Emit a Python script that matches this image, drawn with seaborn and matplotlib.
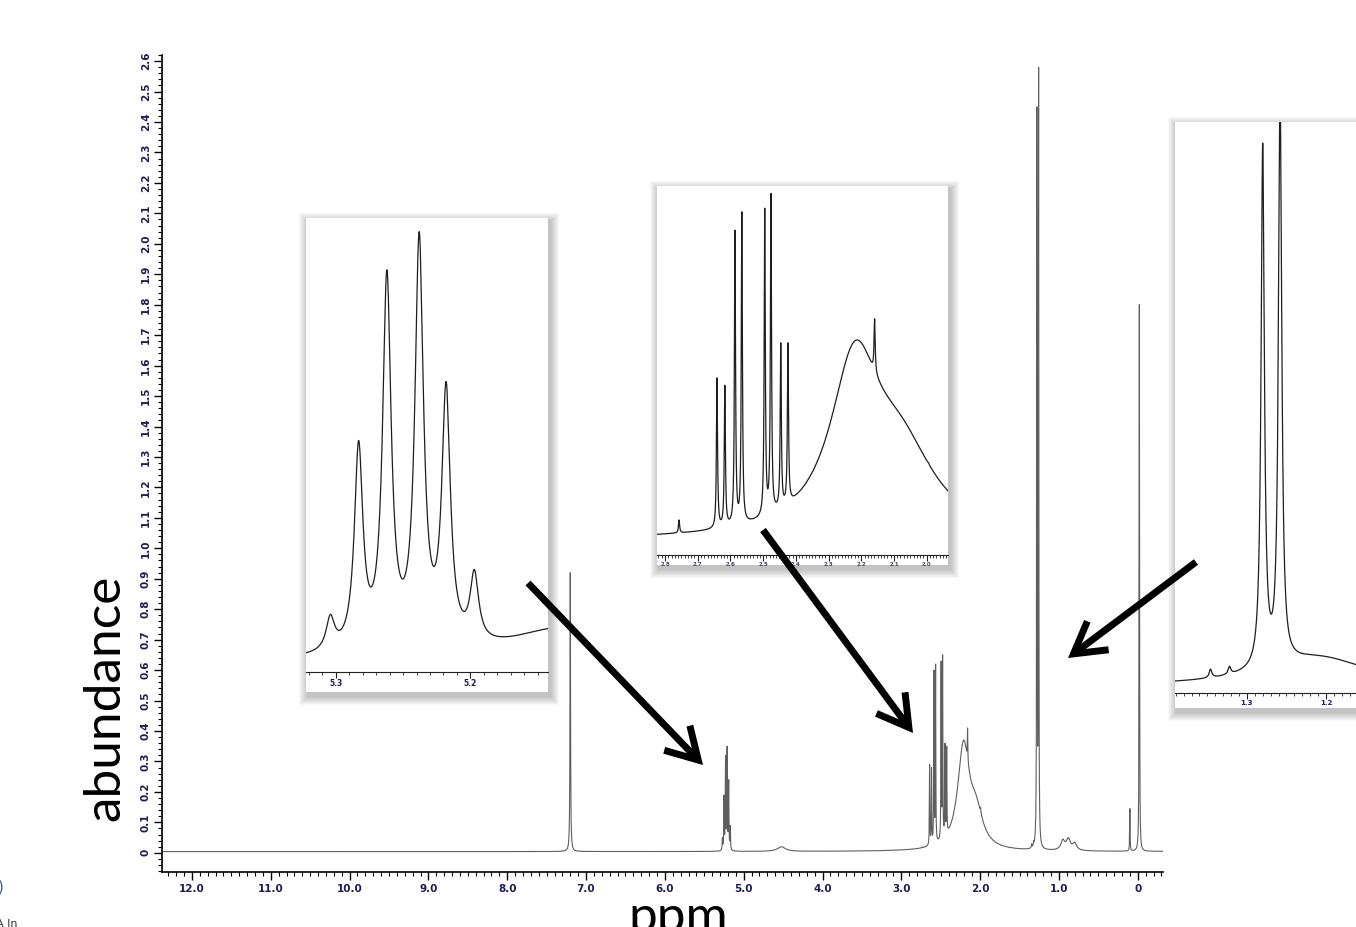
import numpy as np
import matplotlib
matplotlib.use("Agg")
import matplotlib.pyplot as plt
import seaborn as sns
from matplotlib.patches import Rectangle, FancyArrowPatch
from matplotlib.ticker import MultipleLocator, FuncFormatter

# ---------------- data ----------------
# main 1H NMR spectrum: peak positions (ppm), apex heights (abundance), half widths (ppm)
main_ppm = [7.20, 5.27, 5.25, 5.23, 5.21, 5.19, 5.17, 4.52, 2.73,
            2.641, 2.617, 2.586, 2.565, 2.495, 2.476, 2.446, 2.424,
            2.21, 2.05, 2.159, 1.994, 1.347, 1.322, 1.280, 1.258,
            0.95, 0.88, 0.80, 0.10, -0.02]
main_height = [0.92, 0.05, 0.19, 0.32, 0.35, 0.24, 0.09, 0.02, 0.02,
               0.29, 0.28, 0.60, 0.62, 0.63, 0.65, 0.36, 0.35,
               0.37, 0.19, 0.41, 0.15, 0.03, 0.04, 2.45, 2.58,
               0.045, 0.05, 0.035, 0.145, 1.80]
main_hwhm = [0.004, 0.0035, 0.0035, 0.0035, 0.0035, 0.0035, 0.0035, 0.06, 0.004,
             0.003, 0.003, 0.003, 0.003, 0.003, 0.003, 0.003, 0.003,
             0.09, 0.10, 0.003, 0.004, 0.004, 0.004, 0.003, 0.003,
             0.03, 0.03, 0.03, 0.003, 0.003]
main_base = 0.004

# inset 1 (5.3 - 5.15 ppm)
ins1_ppm = [5.304, 5.283, 5.262, 5.238, 5.218, 5.197]
ins1_height = [0.127, 0.51, 0.886, 0.97, 0.64, 0.226]
ins1_hwhm = [0.0038] * 6
ins1_bg_ppm, ins1_bg_amp, ins1_bg_hwhm = [5.13], [0.07], [0.05]
ins1_base = 0.025

# inset 2 (2.8 - 1.95 ppm)
ins2_ppm = [2.757, 2.641, 2.617, 2.586, 2.565, 2.495, 2.476, 2.446, 2.424,
            2.22, 2.08, 2.159, 1.994]
ins2_height = [0.095, 0.48, 0.46, 0.88, 0.93, 0.94, 0.98, 0.575, 0.575,
               0.58, 0.38, 0.64, 0.25]
ins2_hwhm = [0.002, 0.002, 0.002, 0.002, 0.002, 0.002, 0.002, 0.002, 0.002,
             0.09, 0.13, 0.002, 0.002]
ins2_base = 0.04

# inset 3 (1.39 - 1.16 ppm)
ins3_ppm = [1.346, 1.322, 1.280, 1.258]
ins3_height = [0.042, 0.047, 0.963, 1.06]
ins3_hwhm = [0.002, 0.002, 0.0025, 0.0025]
ins3_bg_ppm, ins3_bg_amp, ins3_bg_hwhm = [1.21], [0.05], [0.08]
ins3_base = 0.012

# ---------------- helpers ----------------
W, H = 1356, 927


def fx(px):
    return px / W


def fy(py):
    return 1 - py / H


def lor(grid, c, g):
    return 1.0 / (1.0 + ((grid - c) / g) ** 2)


def spectrum(lo, hi, ppm, height, hwhm, base, bg=([], [], []), n=40000):
    ppm = np.asarray(ppm, float)
    height = np.asarray(height, float)
    g = np.asarray(hwhm, float)
    grid = np.sort(np.concatenate([np.linspace(lo, hi, n), ppm]))
    bgp, bga, bgw = (np.asarray(v, float) for v in bg)

    def background(xx):
        out = np.full_like(xx, base, dtype=float)
        for c, a, w in zip(bgp, bga, bgw):
            out += a * lor(xx, c, w)
        return out

    M = 1.0 / (1.0 + ((ppm[:, None] - ppm[None, :]) / g[None, :]) ** 2)
    amp = np.linalg.solve(M, height - background(ppm))
    amp = np.clip(amp, 0, None)
    y = background(grid)
    for c, a, w in zip(ppm, amp, g):
        y += a * lor(grid, c, w)
    return grid, y


navy = "#1b1d55"

sns.set_theme(style="white")
plt.rcParams["font.family"] = ["DejaVu Sans"]

fig = plt.figure(figsize=(W / 100, H / 100), dpi=100)
fig.patch.set_facecolor("white")

# ---------------- main axes ----------------
ax = fig.add_axes([fx(162), fy(872), fx(1163) - fx(162), fy(55) - fy(872)])
ax.set_facecolor("white")
gx, gy = spectrum(-0.32, 12.38, main_ppm, main_height, main_hwhm, main_base, n=120000)
sns.lineplot(x=gx, y=gy, ax=ax, color="#5f5f5f", linewidth=0.8,
             estimator=None, sort=False, errorbar=None)
ax.set_xlim(12.38, -0.32)
ax.set_ylim(-0.063, 2.62)
for s in ["top", "right"]:
    ax.spines[s].set_visible(False)
for s in ["left", "bottom"]:
    ax.spines[s].set_color("black")
    ax.spines[s].set_linewidth(1.2)
ax.xaxis.set_major_locator(MultipleLocator(1.0))
ax.xaxis.set_minor_locator(MultipleLocator(0.1))
ax.yaxis.set_major_locator(MultipleLocator(0.1))
ax.yaxis.set_minor_locator(MultipleLocator(0.02))
ax.xaxis.set_major_formatter(FuncFormatter(lambda v, p: "0" if abs(v) < 1e-6 else f"{v:.1f}"))
ax.yaxis.set_major_formatter(FuncFormatter(lambda v, p: "0" if abs(v) < 1e-6 else f"{v:.1f}"))
ax.tick_params(axis="both", which="major", direction="out", length=6, width=1,
               color="black", labelcolor=navy, labelsize=7.5, bottom=True, left=True)
ax.tick_params(axis="both", which="minor", direction="out", length=3, width=0.8,
               color="black", bottom=True, left=True)
ax.tick_params(axis="y", labelrotation=90, pad=2)
ax.tick_params(axis="x", pad=3)
for lab in ax.get_xticklabels() + ax.get_yticklabels():
    lab.set_fontweight("bold")
for lab in ax.get_yticklabels():
    lab.set_va("center")

ax.set_xlabel("ppm", fontsize=37, family="Lato", color="black")
ax.set_ylabel("abundance", fontsize=37, family="Lato", color="black")
ax.xaxis.set_label_coords((678 - 162) / 1001, (872 - 932) / 817)
ax.xaxis.label.set_va("baseline")
ax.yaxis.set_label_coords((105 - 162) / 1001, (872 - 698) / 817)
ax.yaxis.label.set_va("center")


# ---------------- insets ----------------
def shadow(x0, y0, x1, y1):
    for k in range(9, 0, -1):
        r = Rectangle((fx(x0 - k + 2), fy(y1 + k + 4)),
                      fx(x1 - x0 + 2 * k), (y1 - y0 + 2 * k) / H,
                      transform=fig.transFigure, facecolor="black",
                      edgecolor="none", alpha=0.028, zorder=2)
        fig.add_artist(r)
    r = Rectangle((fx(x0), fy(y1)), fx(x1 - x0), (y1 - y0) / H,
                  transform=fig.transFigure, facecolor="white",
                  edgecolor="none", zorder=2.5)
    fig.add_artist(r)


def inset(box, axis_y, xlim, data, major, minor, fmt, lsize, lcolor):
    x0, y0, x1, y1 = box
    shadow(x0, y0, x1, y1)
    a = fig.add_axes([fx(x0), fy(axis_y), fx(x1) - fx(x0), fy(y0) - fy(axis_y)])
    a.set_zorder(3)
    a.patch.set_alpha(0)
    gx_, gy_ = data
    sns.lineplot(x=gx_, y=gy_, ax=a, color="#1e1e1e", linewidth=0.9,
                 estimator=None, sort=False, errorbar=None)
    a.set_xlim(*xlim)
    a.set_ylim(0, 1)
    for s in ["top", "right", "left"]:
        a.spines[s].set_visible(False)
    a.spines["bottom"].set_color("#222222")
    a.spines["bottom"].set_linewidth(0.8)
    a.xaxis.set_major_locator(MultipleLocator(major))
    a.xaxis.set_minor_locator(MultipleLocator(minor))
    a.xaxis.set_major_formatter(FuncFormatter(lambda v, p: f"{v:{fmt}}"))
    a.set_yticks([])
    a.tick_params(axis="x", which="major", direction="out", length=4, width=0.8,
                  color="#222222", labelsize=lsize, labelcolor=lcolor, pad=1,
                  bottom=True)
    a.tick_params(axis="x", which="minor", direction="out", length=2, width=0.6,
                  color="#222222", bottom=True)
    for lab in a.get_xticklabels():
        lab.set_fontweight("bold")
    a.set_xlabel("")
    a.set_ylabel("")
    return a


d1 = spectrum(5.142, 5.323, ins1_ppm, ins1_height, ins1_hwhm, ins1_base,
              bg=(ins1_bg_ppm, ins1_bg_amp, ins1_bg_hwhm), n=6000)
inset((306, 218, 548, 692), 672, (5.3221, 5.1423), d1, 0.1, 0.01, ".1f", 5.5, navy)

d2 = spectrum(1.934, 2.825, ins2_ppm, ins2_height, ins2_hwhm, ins2_base, n=12000)
inset((657, 186, 948, 565), 555, (2.8245, 1.9347), d2, 0.1, 0.01, ".1f", 4.0, "#444466")

d3 = spectrum(1.13, 1.392, ins3_ppm, ins3_height, ins3_hwhm, ins3_base,
              bg=(ins3_bg_ppm, ins3_bg_amp, ins3_bg_hwhm), n=8000)
inset((1175, 122, 1380, 708), 693, (1.391, 1.1316), d3, 0.1, 0.01, ".1f", 5.0, navy)

# ---------------- arrows ----------------
arrows = [((528, 583), (703, 765)), ((763, 530), (913, 733)), ((1196, 562), (1068, 658))]
for (ax0, ay0), (ax1, ay1) in arrows:
    arr = FancyArrowPatch((fx(ax0), fy(ay0)), (fx(ax1), fy(ay1)),
                          transform=fig.transFigure,
                          arrowstyle="->,head_length=0.55,head_width=0.32",
                          mutation_scale=40, linewidth=5, color="black",
                          shrinkA=0, shrinkB=0, zorder=6, joinstyle="miter",
                          capstyle="butt")
    fig.add_artist(arr)

# cropped fragments at the lower-left edge
fig.text(fx(-2), fy(887), ")", color="#2f5fb0", fontsize=11, va="center", ha="left")
fig.text(fx(-4), fy(927), "A In", color="#333333", fontsize=8, va="baseline", ha="left")

fig.savefig("out.png", dpi=100, facecolor="white")
